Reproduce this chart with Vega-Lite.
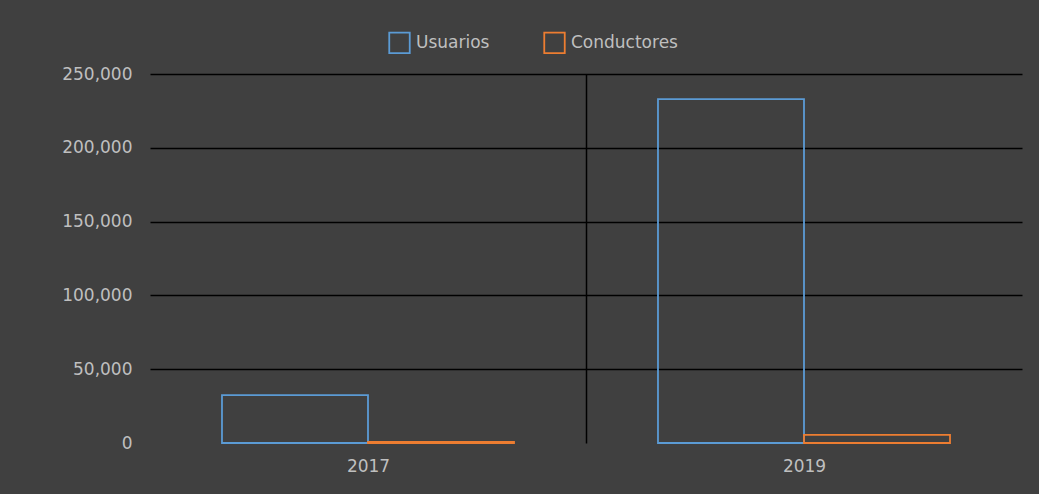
{
  "$schema": "https://vega.github.io/schema/vega-lite/v6.json",
  "width": 872,
  "height": 369,
  "autosize": {"type": "none"},
  "padding": {"left": 150, "top": 74, "right": 17, "bottom": 51},
  "background": "#404040",
  "config": {
    "view": {"stroke": null},
    "font": "DejaVu Sans"
  },
  "data": {
    "values": [
      {"year": "2017", "serie": "Usuarios", "valor": 32500},
      {"year": "2017", "serie": "Conductores", "valor": 800},
      {"year": "2019", "serie": "Usuarios", "valor": 233000},
      {"year": "2019", "serie": "Conductores", "valor": 5500}
    ]
  },
  "mark": {"type": "bar", "fill": null, "fillOpacity": 0, "strokeWidth": 1.8},
  "encoding": {
    "x": {
      "field": "year",
      "type": "nominal",
      "title": null,
      "scale": {"paddingInner": 0, "paddingOuter": 0},
      "axis": {
        "labelAngle": 0,
        "labelColor": "#bfbfbf",
        "labelFontSize": 17,
        "labelPadding": 15,
        "domain": false,
        "ticks": false,
        "grid": true,
        "tickBand": "extent",
        "gridColor": {"condition": {"test": "datum.value === '2017'", "value": "#000000"}, "value": "transparent"},
        "gridWidth": 1.5
      }
    },
    "y": {
      "field": "valor",
      "type": "quantitative",
      "title": null,
      "scale": {"domain": [0, 250000], "nice": false},
      "axis": {
        "values": [0, 50000, 100000, 150000, 200000, 250000],
        "format": ",d",
        "labelColor": "#bfbfbf",
        "labelFontSize": 17,
        "labelPadding": 18,
        "domain": false,
        "ticks": false,
        "gridColor": {"condition": {"test": "datum.value === 0", "value": "transparent"}, "value": "#000000"},
        "gridWidth": 1.5
      }
    },
    "xOffset": {"field": "serie", "type": "nominal", "sort": ["Usuarios", "Conductores"], "scale": {"paddingInner": 0, "paddingOuter": 0.493}},
    "stroke": {
      "field": "serie",
      "type": "nominal",
      "sort": ["Usuarios", "Conductores"],
      "scale": {"domain": ["Usuarios", "Conductores"], "range": ["#5b9bd5", "#ed7d31"]},
      "legend": {
        "title": null,
        "orient": "none",
        "legendX": 238,
        "legendY": -43,
        "direction": "horizontal",
        "symbolType": "square",
        "symbolSize": 420,
        "symbolStrokeWidth": 1.8,
        "symbolFillColor": "transparent",
        "labelColor": "#bfbfbf",
        "labelFontSize": 17,
        "labelOffset": 5,
        "columnPadding": 50
      }
    }
  }
}
